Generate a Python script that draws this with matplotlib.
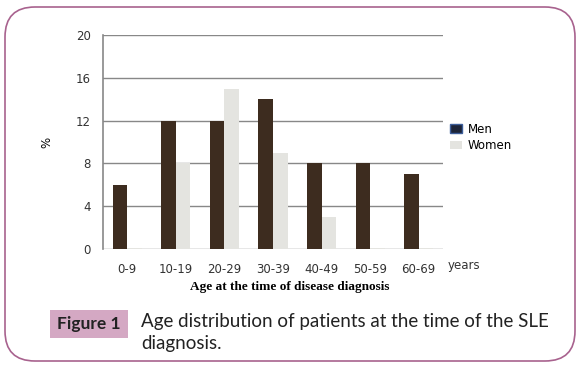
import numpy as np
import matplotlib
matplotlib.use("Agg")
import matplotlib.pyplot as plt
from matplotlib.patches import FancyBboxPatch, Rectangle, Patch

# data
age_groups = ["0-9", "10-19", "20-29", "30-39", "40-49", "50-59", "60-69"]
men = [6, 12, 12, 14, 8, 8, 7]
women = [0.1, 8, 15, 9, 3, 0.1, 0.1]
yticks = [0, 4, 8, 12, 16, 20]

fig = plt.figure(figsize=(5.87, 3.65), dpi=100)

# background axes in pixel units for the frame and caption
bg = fig.add_axes([0, 0, 1, 1])
bg.set_xlim(0, 587)
bg.set_ylim(365, 0)
bg.axis("off")
frame = FancyBboxPatch((5, 7), 570, 354, boxstyle="round,pad=0,rounding_size=30",
                       fill=False, edgecolor="#a8628e", linewidth=1.2)
bg.add_patch(frame)
bg.add_patch(Rectangle((50, 310), 78, 28, facecolor="#d4a8c3", edgecolor="none"))
bg.text(89, 324, "Figure 1", fontsize=12.5, fontweight="bold", family="Lato",
        ha="center", va="center", color="#222222")
bg.text(141, 322, "Age distribution of patients at the time of the SLE",
        fontsize=13.5, family="Lato", ha="left", va="center", color="#222222")
bg.text(141, 343, "diagnosis.",
        fontsize=13.5, family="Lato", ha="left", va="center", color="#222222")

ax = fig.add_axes([0.1755, 0.3178, 0.5792, 0.5863])
ax.patch.set_alpha(0)
x = np.arange(len(age_groups))
w = 0.3
ax.bar(x - w / 2, men, w, color="#3d2c1f", zorder=3)
ax.bar(x + w / 2, women, w, color="#e4e4e0", zorder=3)

ax.set_xlim(-0.5, len(age_groups) - 0.5)
ax.set_ylim(0, 20)
ax.set_yticks(yticks)
ax.yaxis.grid(True, color="#888888", linewidth=1)
ax.set_axisbelow(True)
for side in ["top", "right", "bottom"]:
    ax.spines[side].set_visible(False)
ax.spines["left"].set_color("#888888")
ax.spines["left"].set_linewidth(1.2)
ax.tick_params(axis="y", length=0, labelsize=8.5, pad=9, labelcolor="#333333")
ax.tick_params(axis="x", length=0, labelsize=8.5, pad=10, labelcolor="#333333")
ax.set_xticks(x)
ax.set_xticklabels(age_groups)
ax.set_ylabel("%", fontsize=8.5, labelpad=16)
ax.set_xlabel("Age at the time of disease diagnosis", fontsize=9.5, fontweight="bold",
              family="Liberation Serif", labelpad=8)
ax.xaxis.set_label_coords(0.55, -0.15)

bg.text(448, 266, "years", fontsize=8.5, ha="left", va="center", color="#333333")

handles = [Patch(facecolor="#1c2438", edgecolor="#3d5e9a", label="Men"),
           Patch(facecolor="#e4e4e0", edgecolor="none", label="Women")]
fig.legend(handles=handles, loc="upper left", bbox_to_anchor=(445 / 587, 1 - 118 / 365),
           frameon=False, fontsize=8.5, handlelength=1.0, handleheight=0.7,
           handletextpad=0.5, labelspacing=0.3, borderaxespad=0)

fig.savefig("out.png", dpi=100)
